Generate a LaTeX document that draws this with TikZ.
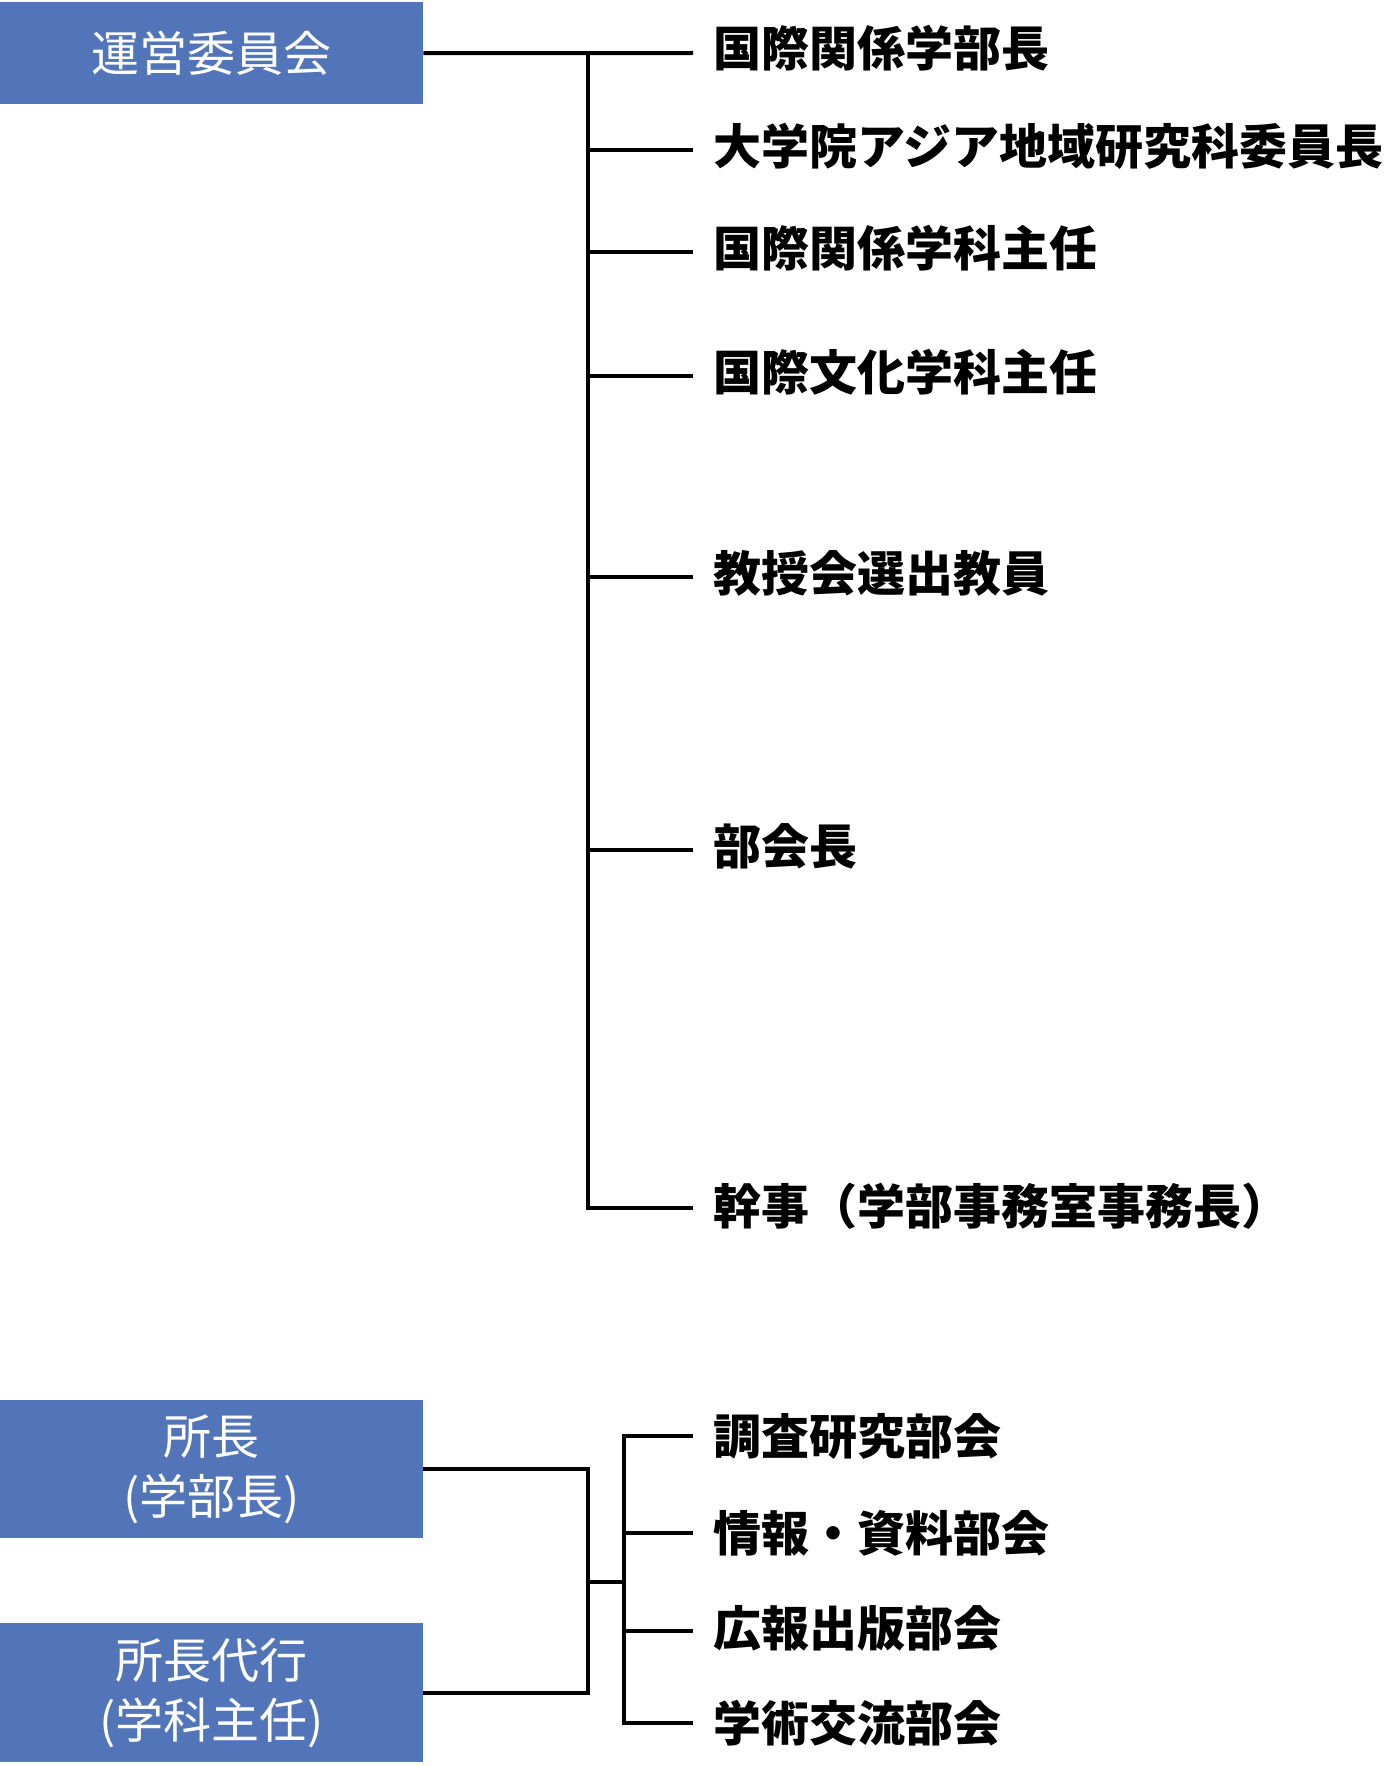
\documentclass[tikz,border=0pt]{standalone}
\usepackage{fontspec}
\newfontfamily\cjk{Noto Sans CJK JP}
\definecolor{boxblue}{RGB}{82,117,185}
\begin{document}
\begin{tikzpicture}[x=1pt,y=-1pt,
  blk/.style={fill=boxblue,draw=none,text=white,inner sep=0pt,minimum width=423pt,anchor=north west,font=\cjk\fontsize{48}{60}\selectfont,align=center},
  lbl/.style={anchor=west,inner sep=0pt,font=\cjk\bfseries\fontsize{48}{56}\selectfont},
  conn/.style={line width=4pt,line cap=butt,line join=miter}]
\useasboundingbox (0,0) rectangle (1384,1766);
% top group
\node[blk,minimum height=102pt] (unei) at (0,2) {運営委員会};
\node[lbl] (t1) at (713,48) {国際関係学部長};
\node[lbl] (t2) at (713,146) {大学院アジア地域研究科委員長};
\node[lbl] (t3) at (713,248) {国際関係学科主任};
\node[lbl] (t4) at (713,372) {国際文化学科主任};
\node[lbl] (t5) at (713,573) {教授会選出教員};
\node[lbl] (t6) at (713,846) {部会長};
\node[lbl] (t7) at (713,1206) {幹事（学部事務室事務長）};
\coordinate (j1) at (588,53);
\coordinate (j2) at (588,150);
\coordinate (j3) at (588,252);
\coordinate (j4) at (588,376);
\coordinate (j5) at (588,577);
\coordinate (j6) at (588,850);
\coordinate (j7) at (588,1208);
\coordinate (e1) at (693,53);
\coordinate (e2) at (693,150);
\coordinate (e3) at (693,252);
\coordinate (e4) at (693,376);
\coordinate (e5) at (693,577);
\coordinate (e6) at (693,850);
\coordinate (e7) at (693,1208);
\draw[conn] (unei.east) -- (e1);
\draw[conn] (j1) -- (j7) -- (e7);
\draw[conn] (j2) -- (e2);
\draw[conn] (j3) -- (e3);
\draw[conn] (j4) -- (e4);
\draw[conn] (j5) -- (e5);
\draw[conn] (j6) -- (e6);
% bottom group
\node[blk,minimum height=138pt] (shocho) at (0,1400) {所長\\(学部長)};
\node[blk,minimum height=139pt] (dairi) at (0,1623) {所長代行\\(学科主任)};
\node[lbl] (b1) at (713,1436) {調査研究部会};
\node[lbl] (b2) at (713,1533) {情報・資料部会};
\node[lbl] (b3) at (713,1628) {広報出版部会};
\node[lbl] (b4) at (713,1723) {学術交流部会};
\coordinate (m1) at (588,1582);
\coordinate (m2) at (624,1582);
\coordinate (k1) at (624,1436);
\coordinate (k2) at (624,1533);
\coordinate (k3) at (624,1631);
\coordinate (k4) at (624,1723);
\coordinate (f1) at (693,1436);
\coordinate (f2) at (693,1533);
\coordinate (f3) at (693,1631);
\coordinate (f4) at (693,1723);
\draw[conn] (shocho.east) -| (m1) |- (dairi.east);
\draw[conn] (m1) -- (m2);
\draw[conn] (f1) -- (k1) -- (k4) -- (f4);
\draw[conn] (k2) -- (f2);
\draw[conn] (k3) -- (f3);
\end{tikzpicture}
\end{document}
